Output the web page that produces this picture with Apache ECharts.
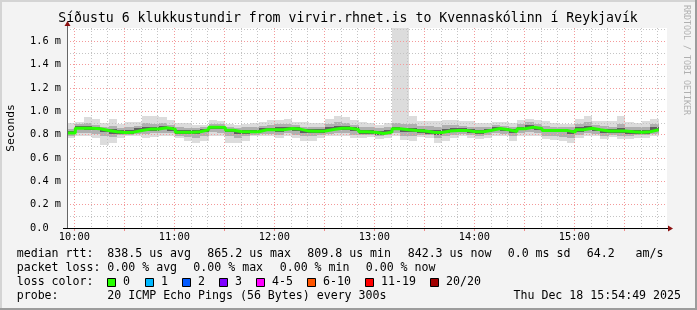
<!DOCTYPE html>
<html><head><meta charset="utf-8">
<script src="https://cdn.jsdelivr.net/npm/echarts@6/dist/echarts.min.js"></script>
<style>html,body{margin:0;padding:0;background:#f3f3f3}#c{width:697px;height:310px}</style>
</head><body><div id="c"></div><script>
// ---------------- data ----------------
const chartTitle = 'Síðustu 6 klukkustundir from virvir.rhnet.is to Kvennaskólinn í Reykjavík';
const firstStepStart = 595.6;   // minutes after midnight (09:55:36), left edge of the graph
const spanMinutes = 360;        // 6 hours
const stepMinutes = 5;          // 300 s probe step

// median rtt per step (ms)
const median = [0.815,0.856,0.855,0.851,0.836,0.825,0.819,0.822,0.836,0.848,
 0.849,0.859,0.848,0.822,0.822,0.825,0.842,0.865,0.862,0.839,
 0.825,0.825,0.826,0.842,0.842,0.843,0.854,0.848,0.831,0.830,
 0.831,0.845,0.856,0.855,0.845,0.825,0.821,0.810,0.822,0.851,
 0.842,0.836,0.831,0.822,0.819,0.831,0.836,0.837,0.826,0.825,
 0.839,0.854,0.842,0.828,0.851,0.865,0.854,0.836,0.836,0.837,
 0.822,0.842,0.856,0.842,0.831,0.831,0.832,0.825,0.822,0.825,0.842];
// smoke: slowest ping per step
const pingMax = [0.900,0.908,0.951,0.937,0.900,0.937,0.894,0.908,0.908,0.962,
 0.962,0.951,0.928,0.900,0.900,0.885,0.885,0.928,0.914,0.894,
 0.885,0.894,0.900,0.908,0.922,0.928,0.934,0.908,0.908,0.900,
 0.900,0.934,0.957,0.951,0.922,0.908,0.900,0.885,0.900,1.750,
 1.750,0.957,0.914,0.914,0.914,0.928,0.928,0.914,0.914,0.900,
 0.900,0.905,0.905,0.900,0.922,0.937,0.922,0.914,0.900,0.894,
 0.894,0.937,0.957,0.914,0.914,0.914,0.957,0.905,0.900,0.914,0.934];
// upper outer quantile
const pingHi1 = [0.845,0.890,0.900,0.885,0.870,0.875,0.860,0.865,0.875,0.900,
 0.895,0.900,0.885,0.865,0.858,0.855,0.862,0.895,0.888,0.865,
 0.858,0.862,0.868,0.875,0.885,0.888,0.895,0.880,0.870,0.865,
 0.868,0.890,0.905,0.900,0.885,0.868,0.862,0.855,0.865,0.900,
 0.895,0.890,0.878,0.872,0.870,0.885,0.882,0.875,0.870,0.862,
 0.868,0.880,0.875,0.865,0.888,0.905,0.890,0.875,0.870,0.868,
 0.865,0.895,0.910,0.880,0.875,0.870,0.890,0.865,0.862,0.868,0.890];
// upper inner quantile
const pingHi2 = [0.830,0.872,0.875,0.868,0.852,0.845,0.838,0.840,0.855,0.870,
 0.868,0.875,0.865,0.840,0.838,0.840,0.852,0.878,0.875,0.852,
 0.840,0.840,0.842,0.858,0.860,0.862,0.870,0.862,0.848,0.845,
 0.848,0.862,0.875,0.872,0.862,0.842,0.838,0.828,0.840,0.870,
 0.860,0.858,0.850,0.842,0.840,0.852,0.855,0.855,0.845,0.842,
 0.852,0.868,0.858,0.845,0.868,0.882,0.870,0.852,0.850,0.850,
 0.840,0.862,0.878,0.858,0.850,0.848,0.855,0.842,0.838,0.842,0.862];
// lower inner quantile
const pingLo2 = [0.805,0.845,0.842,0.838,0.820,0.810,0.808,0.810,0.822,0.835,
 0.836,0.845,0.835,0.808,0.805,0.808,0.825,0.850,0.848,0.820,
 0.808,0.810,0.812,0.828,0.828,0.826,0.840,0.832,0.815,0.812,
 0.815,0.832,0.842,0.842,0.830,0.810,0.808,0.798,0.808,0.838,
 0.825,0.820,0.818,0.808,0.800,0.815,0.822,0.825,0.812,0.810,
 0.825,0.842,0.828,0.812,0.838,0.852,0.840,0.820,0.820,0.820,
 0.805,0.825,0.842,0.828,0.815,0.818,0.815,0.810,0.808,0.810,0.828];
// lower outer quantile
const pingLo1 = [0.790,0.815,0.815,0.808,0.785,0.780,0.795,0.800,0.805,0.810,
 0.812,0.815,0.815,0.792,0.778,0.775,0.790,0.820,0.818,0.785,
 0.775,0.790,0.800,0.808,0.805,0.800,0.812,0.800,0.785,0.785,
 0.795,0.808,0.815,0.812,0.800,0.795,0.798,0.785,0.795,0.815,
 0.790,0.785,0.800,0.795,0.770,0.785,0.800,0.808,0.795,0.790,
 0.800,0.815,0.808,0.785,0.812,0.820,0.812,0.790,0.788,0.780,
 0.775,0.800,0.815,0.808,0.790,0.800,0.790,0.790,0.795,0.795,0.808];
// fastest ping per step
const pingMin = [0.770,0.785,0.785,0.770,0.713,0.727,0.770,0.785,0.785,0.770,
 0.779,0.785,0.790,0.770,0.742,0.727,0.742,0.785,0.785,0.733,
 0.727,0.750,0.785,0.785,0.785,0.770,0.785,0.770,0.750,0.750,
 0.770,0.785,0.790,0.785,0.770,0.770,0.779,0.762,0.770,0.790,
 0.756,0.750,0.779,0.770,0.727,0.750,0.770,0.785,0.770,0.762,
 0.770,0.790,0.785,0.750,0.785,0.790,0.785,0.762,0.756,0.742,
 0.733,0.770,0.785,0.785,0.762,0.779,0.762,0.762,0.770,0.770,0.785];

const yTickLabels = ['0.0','0.2 m','0.4 m','0.6 m','0.8 m','1.0 m','1.2 m','1.4 m','1.6 m'];
const xTickLabels = ['10:00','11:00','12:00','13:00','14:00','15:00'];
const firstHourTick = 600; // 10:00 in minutes

const statLine1 = ['median rtt:','838.5 us avg','865.2 us max','809.8 us min','842.3 us now','0.0 ms sd','64.2   am/s'];
const statLine2 = ['packet loss:','0.00 % avg','0.00 % max','0.00 % min','0.00 % now'];
const lossLabels = ['0','1','2','3','4-5','6-10','11-19','20/20'];
const lossColors = ['#26ff00','#00b8ff','#0059ff','#7e00ff','#ff00ff','#ff5500','#ff0000','#a10000'];
const probeText = ['probe:','20 ICMP Echo Pings (56 Bytes) every 300s','Thu Dec 18 15:54:49 2025'];

// ---------------- layout ----------------
const FONT = '"DejaVu Sans Mono", monospace';
const plotL = 67, plotT = 28, plotW = 600, plotH = 200, plotB = plotT + plotH;
const yMax = 1.715;
const pxPerMs = plotH / yMax;
const pxPerMin = plotW / spanMinutes;
const hourLeft = plotL + (firstHourTick - firstStepStart) * pxPerMin;
const y17 = plotB - 1.7 * pxPerMs, y16 = plotB - 1.6 * pxPerMs;

const smokeData = median.map((_, i) => [
  firstStepStart + i * stepMinutes, firstStepStart + (i + 1) * stepMinutes,
  pingMin[i], pingLo1[i], pingLo2[i], pingHi2[i], pingHi1[i], pingMax[i]]);
const medianData = median.map((v, i) => [firstStepStart + i * stepMinutes, v]);
medianData.push([firstStepStart + median.length * stepMinutes, median[median.length - 1]]);

const bands = [[2, 7, '#dcdcdc'], [3, 6, '#b0b0b0'], [4, 5, '#5f5f5f']];

const chart = echarts.init(document.getElementById('c'), null, {renderer: 'canvas'});
const noAxis = {axisLine: {show: false}, axisTick: {show: false}, axisLabel: {show: false}, splitLine: {show: false}};
const GRIDZ = 3;

const graphics = [];
graphics.push({type: 'rect', z: -1, silent: true, shape: {x: plotL, y: plotT, width: plotW, height: plotH}, style: {fill: '#ffffff'}});
// frame
graphics.push({type: 'rect', shape: {x: 0, y: 0, width: 697, height: 2}, style: {fill: '#d4d4d4'}});
graphics.push({type: 'rect', shape: {x: 0, y: 0, width: 2, height: 310}, style: {fill: '#d4d4d4'}});
graphics.push({type: 'rect', shape: {x: 695, y: 0, width: 2, height: 310}, style: {fill: '#9c9c9c'}});
graphics.push({type: 'rect', shape: {x: 0, y: 308, width: 697, height: 2}, style: {fill: '#9c9c9c'}});
// title
graphics.push({type: 'text', x: 348, y: 19, style: {text: chartTitle, font: '13.2px ' + FONT, fill: '#000', align: 'center', verticalAlign: 'middle'}});
// y name
graphics.push({type: 'text', x: 10.8, y: 128, rotation: Math.PI / 2, style: {text: 'Seconds', font: '11.3px ' + FONT, fill: '#000', align: 'center', verticalAlign: 'middle'}});
// watermark
graphics.push({type: 'text', x: 686.5, y: 60, rotation: -Math.PI / 2, style: {text: 'RRDTOOL / TOBI OETIKER', font: '8.3px ' + FONT, fill: '#b0b0b0', align: 'center', verticalAlign: 'middle'}});
// axis extras & arrows
graphics.push({type: 'line', z: 10, shape: {x1: 63, y1: plotB + 0.5, x2: plotL, y2: plotB + 0.5}, style: {stroke: '#000', lineWidth: 1}});
graphics.push({type: 'line', z: 10, shape: {x1: plotL + 0.5, y1: 25, x2: plotL + 0.5, y2: plotT}, style: {stroke: '#666', lineWidth: 1}});
graphics.push({type: 'line', z: 10, shape: {x1: plotL + plotW, y1: plotB + 0.5, x2: 669, y2: plotB + 0.5}, style: {stroke: '#000', lineWidth: 1}});
graphics.push({type: 'polygon', z: 10, shape: {points: [[64.5, 26], [70.5, 26], [67.5, 21]]}, style: {fill: '#8b1010'}});
graphics.push({type: 'polygon', z: 10, shape: {points: [[668, 225.5], [668, 231.5], [673, 228.5]]}, style: {fill: '#8b1010'}});
// legend text
const L1 = [16.7, 107.3, 207.3, 307.3, 407.7, 507.7, 586.7];
statLine1.forEach((t, i) => graphics.push({type: 'text', x: L1[i], y: 254, style: {text: t, font: '11.6px ' + FONT, fill: '#000', verticalAlign: 'middle'}}));
const L2 = [16.7, 107.3, 193.3, 279.7, 365.7];
statLine2.forEach((t, i) => graphics.push({type: 'text', x: L2[i], y: 268, style: {text: t, font: '11.6px ' + FONT, fill: '#000', verticalAlign: 'middle'}}));
graphics.push({type: 'text', x: 16.7, y: 282, style: {text: 'loss color:', font: '11.6px ' + FONT, fill: '#000', verticalAlign: 'middle'}});
const boxX = [107.5, 145.5, 182.5, 219.5, 256.5, 307.5, 365.5, 430.5];
lossLabels.forEach((t, i) => {
  graphics.push({type: 'rect', shape: {x: boxX[i], y: 278.5, width: 8, height: 8}, style: {fill: lossColors[i], stroke: '#000', lineWidth: 1}});
  graphics.push({type: 'text', x: boxX[i] + 15.5, y: 282, style: {text: t, font: '11.6px ' + FONT, fill: '#000', verticalAlign: 'middle'}});
});
graphics.push({type: 'text', x: 16.7, y: 296, style: {text: probeText[0], font: '11.6px ' + FONT, fill: '#000', verticalAlign: 'middle'}});
graphics.push({type: 'text', x: 107.3, y: 296, style: {text: probeText[1], font: '11.6px ' + FONT, fill: '#000', verticalAlign: 'middle'}});
graphics.push({type: 'text', x: 681, y: 296, style: {text: probeText[2], font: '11.6px ' + FONT, fill: '#000', align: 'right', verticalAlign: 'middle'}});

const option = {
  animation: false,
  backgroundColor: '#f3f3f3',
  grid: [
    {left: plotL, top: plotT, width: plotW, height: plotH},
    {left: hourLeft, top: plotT, width: 350 * pxPerMin, height: plotH},
    {left: hourLeft, top: plotT, width: 330 * pxPerMin, height: plotH},
    {left: plotL, top: y17, width: plotW, height: plotB - y17},
    {left: plotL, top: y16, width: plotW, height: plotB - y16}
  ],
  xAxis: [
    {gridIndex: 0, type: 'value', min: firstStepStart, max: firstStepStart + spanMinutes, z: 5,
     axisLine: {show: true, onZero: false, lineStyle: {color: '#000', width: 1}}, axisTick: {show: false}, axisLabel: {show: false}, splitLine: {show: false}},
    {gridIndex: 1, type: 'value', min: 600, max: 950, interval: 10, z: GRIDZ, axisLine: {show: false}, axisTick: {show: false}, axisLabel: {show: false},
     splitLine: {show: true, lineStyle: {color: '#c4c4c4', width: 1, type: [1, 2]}}},
    {gridIndex: 2, type: 'value', min: 600, max: 930, interval: 30, z: GRIDZ, axisLine: {show: false},
     axisTick: {show: true, length: 3, lineStyle: {color: '#f08a8a'}},
     axisLabel: {show: true, margin: 4, color: '#000', fontSize: 10.3, fontFamily: FONT,
       formatter: v => ((v - firstHourTick) % 60 === 0 ? xTickLabels[(v - firstHourTick) / 60] : '')},
     splitLine: {show: true, lineStyle: {color: '#f49a9a', width: 1, type: [1, 2]}}},
    Object.assign({gridIndex: 3, type: 'value', min: 0, max: 1}, noAxis),
    Object.assign({gridIndex: 4, type: 'value', min: 0, max: 1}, noAxis)
  ],
  yAxis: [
    {gridIndex: 0, type: 'value', min: 0, max: yMax, z: 5, axisLine: {show: true, lineStyle: {color: '#666', width: 1}},
     axisTick: {show: false}, axisLabel: {show: false}, splitLine: {show: false}},
    Object.assign({gridIndex: 1, type: 'value', min: 0, max: 1}, noAxis),
    Object.assign({gridIndex: 2, type: 'value', min: 0, max: 1}, noAxis),
    {gridIndex: 3, type: 'value', min: 0, max: 1.7, interval: 0.1, z: GRIDZ, axisLine: {show: false}, axisTick: {show: false}, axisLabel: {show: false},
     splitLine: {show: true, lineStyle: {color: '#c4c4c4', width: 1, type: [1, 2]}}},
    {gridIndex: 4, type: 'value', min: 0, max: 1.6, interval: 0.2, z: GRIDZ, axisLine: {show: false}, axisTick: {show: false},
     axisLabel: {show: true, align: 'left', margin: 37, color: '#000', fontSize: 10.3, fontFamily: FONT,
       formatter: v => yTickLabels[Math.round(v / 0.2)]},
     splitLine: {show: true, lineStyle: {color: '#f49a9a', width: 1, type: [1, 2]}}}
  ],
  series: [
    {type: 'custom', xAxisIndex: 0, yAxisIndex: 0, clip: true, z: 2, silent: true,
     encode: {x: [0, 1], y: [2, 7]},
     data: smokeData,
     renderItem: (params, api) => {
       const t0 = api.value(0), t1 = api.value(1);
       const children = bands.map(([lo, hi, c]) => {
         const p0 = api.coord([t0, api.value(hi)]);
         const p1 = api.coord([t1, api.value(lo)]);
         const x0 = Math.round(p0[0]), x1 = Math.round(p1[0]);
         const yT = Math.round(p0[1]), yB = Math.round(p1[1]);
         return {type: 'rect', shape: {x: x0, y: yT, width: x1 - x0, height: yB - yT}, style: {fill: c}};
       });
       return {type: 'group', children};
     }},
    {type: 'line', xAxisIndex: 0, yAxisIndex: 0, step: 'end', data: medianData, showSymbol: false, symbol: 'none', z: 4, silent: true,
     lineStyle: {color: '#26ff00', width: 3}}
  ],
  graphic: graphics
};
chart.setOption(option);
</script></body></html>
